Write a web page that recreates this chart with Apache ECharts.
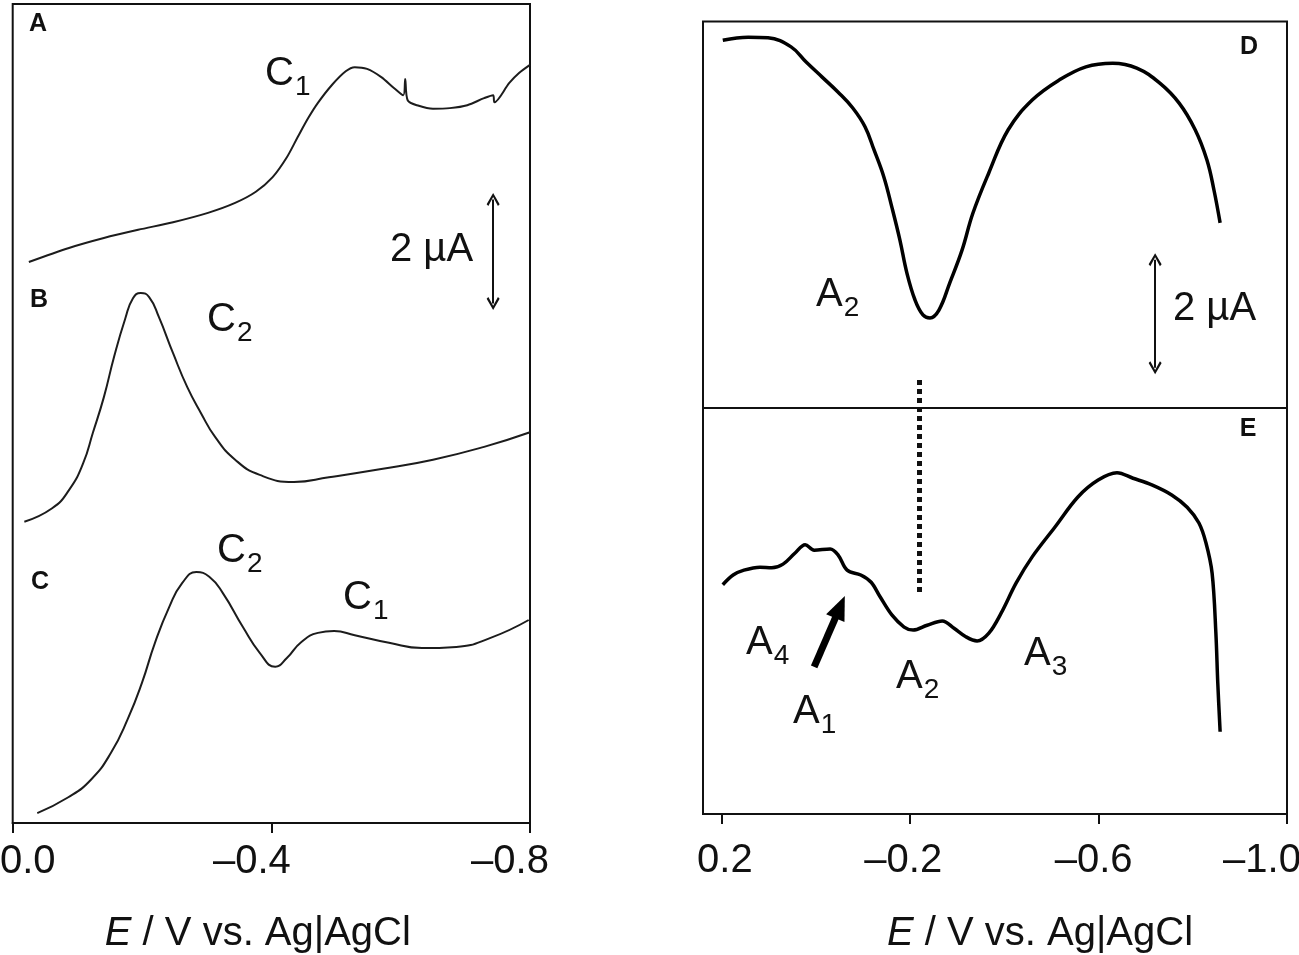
<!DOCTYPE html>
<html lang="en">
<head>
<meta charset="UTF-8">
<title>Stripping voltammograms A–E</title>
<script src="https://cdn.jsdelivr.net/npm/echarts@6.0.0/dist/echarts.min.js"></script>
<style>
  html, body { margin: 0; padding: 0; background: #fff; }
  #chart { width: 1299px; height: 955px; }
</style>
</head>
<body>
<div id="chart"></div>
<script>
// ---- data (E in V vs. Ag|AgCl, current in µA incl. vertical offset) ----
const leftTicks = [0, -0.4, -0.8];
const leftTickLabels = ['0.0', '–0.4', '–0.8'];
const rightTicks = [0.2, -0.2, -0.6, -1.0];
const rightTickLabels = ['0.2', '–0.2', '–0.6', '–1.0'];

// panel A
const potA = [-0.025, -0.087, -0.141, -0.194, -0.248, -0.302, -0.344, -0.376, -0.402, -0.424, -0.441,
  -0.457, -0.472, -0.494, -0.515, -0.529, -0.548, -0.570, -0.590, -0.604, -0.607, -0.611, -0.628,
  -0.650, -0.676, -0.703, -0.729, -0.743, -0.745, -0.768, -0.783, -0.800];
const curA = [9.59, 9.83, 10.00, 10.14, 10.27, 10.43, 10.60, 10.79, 11.04, 11.38, 11.73,
  12.05, 12.31, 12.62, 12.85, 12.92, 12.89, 12.75, 12.56, 12.44, 12.72, 12.35, 12.26,
  12.21, 12.22, 12.27, 12.39, 12.44, 12.32, 12.65, 12.82, 12.96];

// panel B
const potB = [-0.018, -0.061, -0.087, -0.109, -0.124, -0.141, -0.157, -0.174, -0.186, -0.198, -0.211,
  -0.226, -0.248, -0.270, -0.291, -0.313, -0.344, -0.382, -0.435, -0.489, -0.570, -0.650, -0.729, -0.800];
const curB = [5.15, 5.38, 5.69, 6.15, 6.67, 7.28, 7.98, 8.62, 8.97, 9.06, 8.99,
  8.65, 8.03, 7.45, 7.01, 6.60, 6.21, 5.95, 5.83, 5.91, 6.05, 6.21, 6.43, 6.68];

// panel C
const potC = [-0.038, -0.086, -0.121, -0.152, -0.178, -0.200, -0.220, -0.242, -0.262, -0.284, -0.304,
  -0.325, -0.356, -0.382, -0.406, -0.424, -0.446, -0.472, -0.497, -0.529, -0.582, -0.633, -0.686,
  -0.738, -0.798];
const curC = [0.17, 0.44, 0.74, 1.20, 1.78, 2.40, 3.08, 3.69, 4.10, 4.29, 4.21,
  3.93, 3.35, 2.91, 2.67, 2.82, 3.09, 3.25, 3.28, 3.21, 3.08, 2.99, 3.01,
  3.16, 3.47];

// panel D
const potD = [0.198, 0.144, 0.102, 0.053, 0.021, -0.013, -0.047, -0.078, -0.104, -0.123, -0.144,
  -0.161, -0.178, -0.193, -0.210, -0.227, -0.242, -0.261, -0.284, -0.310, -0.333, -0.367, -0.408,
  -0.459, -0.516, -0.573, -0.630, -0.681, -0.730, -0.771, -0.805, -0.830, -0.845, -0.858];
const curD = [12.79, 12.84, 12.83, 12.68, 12.43, 12.18, 11.93, 11.67, 11.36, 10.98, 10.53,
  10.03, 9.49, 8.94, 8.50, 8.25, 8.20, 8.33, 8.78, 9.32, 9.93, 10.60, 11.31,
  11.80, 12.13, 12.35, 12.41, 12.33, 12.08, 11.75, 11.31, 10.81, 10.31, 9.77];

// panel E
const potE = [0.198, 0.176, 0.153, 0.119, 0.094, 0.070, 0.045, 0.023, 0.004, -0.030, -0.047,
  -0.066, -0.095, -0.117, -0.136, -0.161, -0.187, -0.206, -0.236, -0.268, -0.293, -0.318,
  -0.342, -0.367, -0.393, -0.425, -0.459, -0.507, -0.556, -0.599, -0.639, -0.673, -0.713,
  -0.756, -0.788, -0.813, -0.828, -0.841, -0.849, -0.853, -0.858];
const curE = [3.79, 3.95, 4.03, 4.08, 4.07, 4.13, 4.31, 4.45, 4.36, 4.38, 4.28,
  4.03, 3.95, 3.83, 3.59, 3.29, 3.09, 3.04, 3.12, 3.19, 3.07, 2.93,
  2.86, 2.99, 3.32, 3.82, 4.25, 4.74, 5.24, 5.52, 5.64, 5.55, 5.44,
  5.27, 5.07, 4.81, 4.48, 3.98, 2.99, 2.17, 1.36];

// annotations (data coordinates)
const scaleLeft = { pot: -0.743, from: 8.77, to: 10.77 };   // 2 µA bar
const scaleRight = { pot: -0.720, from: 7.27, to: 9.27 };   // 2 µA bar
const dividerDE = 6.72;
const guideA2 = { pot: -0.219, from: 3.67, to: 7.22 };
const arrowA1 = { from: [0.004, 2.43], to: [-0.051, 3.42] };

// ---- chart ----
const FONT = '"Liberation Sans", Arial, Helvetica, sans-serif';
const INK = '#111';
const chevron = 'path://M50,0 L100,86 L87,100 L50,32 L13,100 L0,86 Z';
const HEAD = 13;

function pairs(xs, ys) { return xs.map((x, i) => [x, ys[i]]); }

function tickFormatter(values, labels) {
  return function (v) {
    const i = values.findIndex(t => Math.abs(t - v) < 1e-9);
    return i < 0 ? '' : '{t' + i + '|' + labels[i] + '}';
  };
}

function tickRich(pads) {
  const rich = {};
  pads.forEach((p, i) => {
    rich['t' + i] = { fontSize: 40, lineHeight: 40, fontFamily: FONT, color: INK, padding: p };
  });
  return rich;
}

function xAxisCfg(grid, min, max, ticks, labels, pads, margin, nameGap, namePad) {
  return {
    gridIndex: grid, type: 'value', min: min, max: max, inverse: true,
    axisLine: { show: true, onZero: false, lineStyle: { color: INK, width: 2 } },
    axisTick: { show: true, inside: false, length: 10, customValues: ticks,
      lineStyle: { color: INK, width: 2 } },
    axisLabel: { customValues: ticks, formatter: tickFormatter(ticks, labels), margin: margin,
      color: INK, fontSize: 40, fontFamily: FONT, rich: tickRich(pads) },
    splitLine: { show: false },
    name: '{i|E} / V vs. Ag|AgCl', nameLocation: 'middle', nameGap: nameGap,
    nameTextStyle: { color: INK, fontSize: 40, lineHeight: 40, fontFamily: FONT, padding: namePad,
      rich: { i: { fontStyle: 'italic', fontSize: 40, lineHeight: 40, fontFamily: FONT, color: INK } } }
  };
}

function trace(axis, pot, cur, width, color, smooth) {
  return { type: 'line', xAxisIndex: axis, yAxisIndex: axis, data: pairs(pot, cur),
    symbol: 'none', showSymbol: false, smooth: smooth, silent: true,
    lineStyle: { color: color, width: width } };
}

function marks(axis, markLine) {
  return { type: 'line', xAxisIndex: axis, yAxisIndex: axis, data: [], silent: true,
    markLine: Object.assign({ silent: true, label: { show: false }, animation: false }, markLine) };
}

function scaleBar(axis, s, pxPerUnit) {
  const off = HEAD / 2 / pxPerUnit;
  return marks(axis, {
    symbol: [chevron, chevron], symbolSize: [HEAD, HEAD],
    lineStyle: { color: INK, width: 2, type: 'solid' },
    data: [[{ coord: [s.pot, s.from + off] }, { coord: [s.pot, s.to - off] }]]
  });
}

const subRich = {
  m: { fontSize: 40, lineHeight: 40, fontFamily: FONT, fill: INK },
  s: { fontSize: 28, lineHeight: 28, fontFamily: FONT, fill: INK, padding: [26, 0, 0, 1] }
};

function peakLabel(x, y, main, sub) {
  return { type: 'text', x: x, y: y, silent: true,
    style: { text: '{m|' + main + '}{s|' + sub + '}', rich: subRich, fill: INK,
      fontSize: 40, fontFamily: FONT,
      align: 'left', verticalAlign: 'middle', textAlign: 'left', textVerticalAlign: 'middle' } };
}

function plainLabel(x, y, text, size, weight, align) {
  return { type: 'text', x: x, y: y, silent: true,
    style: { text: text, fill: INK, fontSize: size, fontWeight: weight, fontFamily: FONT,
      align: align, verticalAlign: 'middle', textAlign: align, textVerticalAlign: 'middle' } };
}

const chart = echarts.init(document.getElementById('chart'), null, { renderer: 'canvas' });

chart.setOption({
  animation: false,
  backgroundColor: '#fff',
  grid: [
    { left: 12.7, right: 769, top: 4, bottom: 132, show: true, borderColor: INK, borderWidth: 2,
      containLabel: false, outerBoundsMode: 'none' },
    { left: 703, right: 12, top: 21.45, bottom: 141, show: true, borderColor: INK, borderWidth: 2,
      containLabel: false, outerBoundsMode: 'none' }
  ],
  xAxis: [
    xAxisCfg(0, -0.8, 0, leftTicks, leftTickLabels,
      [[0, 0, 0, 30], [0, 39, 0, 0], [0, 40, 0, 0]], 18.5, 91, [0, 27, 0, 0]),
    xAxisCfg(1, -1.0, 0.24, rightTicks, rightTickLabels,
      [[0, 0, 0, 6], [0, 14, 0, 0], [0, 10, 0, 0], [0, 50, 0, 0]], 27, 100, [0, 0, 0, 90])
  ],
  yAxis: [
    { gridIndex: 0, type: 'value', min: 0, max: 14, show: false, splitLine: { show: false } },
    { gridIndex: 1, type: 'value', min: 0, max: 13.1, show: false, splitLine: { show: false } }
  ],
  series: [
    trace(0, potA, curA, 2, '#1c1c1c', 0.3),
    trace(0, potB, curB, 2, '#1c1c1c', 0.5),
    trace(0, potC, curC, 2, '#1c1c1c', 0.5),
    trace(1, potD, curD, 3.5, '#000', 0.4),
    trace(1, potE, curE, 3.5, '#000', 0.35),
    scaleBar(0, scaleLeft, 58.5),
    scaleBar(1, scaleRight, 60.5),
    marks(1, { symbol: 'none', lineStyle: { color: INK, width: 2, type: 'solid' },
      data: [{ yAxis: dividerDE }] }),
    marks(1, { symbol: 'none', lineStyle: { color: INK, width: 5, type: [5, 4], cap: 'butt' },
      data: [[{ coord: [guideA2.pot, guideA2.from] }, { coord: [guideA2.pot, guideA2.to] }]] }),
    marks(1, { symbol: ['none', 'triangle'], symbolSize: [20, 24],
      lineStyle: { color: '#000', width: 7, type: 'solid' },
      itemStyle: { color: '#000' },
      data: [[{ coord: arrowA1.from }, { coord: arrowA1.to }]] })
  ],
  graphic: [
    plainLabel(38, 24, 'A', 25, 'bold', 'center'),
    plainLabel(39, 300, 'B', 25, 'bold', 'center'),
    plainLabel(40, 582, 'C', 25, 'bold', 'center'),
    plainLabel(1249, 47, 'D', 25, 'bold', 'center'),
    plainLabel(1248, 429, 'E', 25, 'bold', 'center'),
    peakLabel(265, 74, 'C', '1'),
    peakLabel(207, 320, 'C', '2'),
    peakLabel(217, 551, 'C', '2'),
    peakLabel(343, 598, 'C', '1'),
    plainLabel(390, 250, '2 µA', 40, 'normal', 'left'),
    peakLabel(816, 295, 'A', '2'),
    plainLabel(1173, 309, '2 µA', 40, 'normal', 'left'),
    peakLabel(746, 643, 'A', '4'),
    peakLabel(793, 712, 'A', '1'),
    peakLabel(896, 677, 'A', '2'),
    peakLabel(1024, 654, 'A', '3')
  ]
});
</script>
</body>
</html>
